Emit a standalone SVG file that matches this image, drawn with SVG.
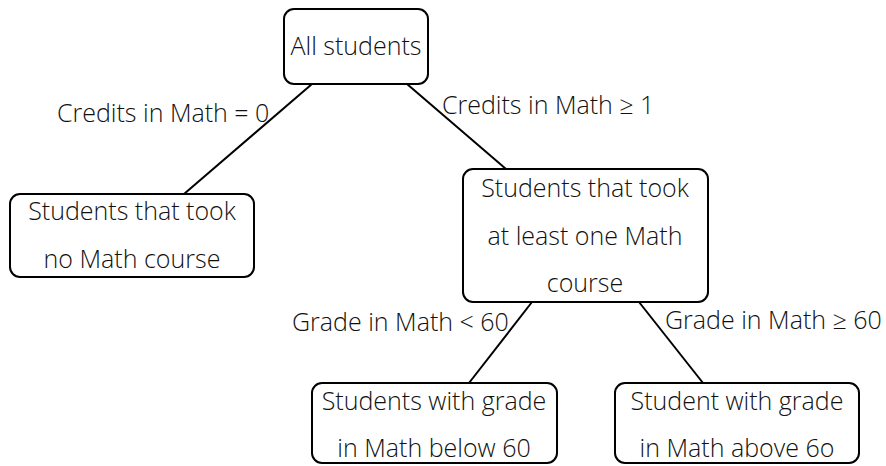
<svg xmlns="http://www.w3.org/2000/svg" width="886" height="466" viewBox="0 0 886 466">
<style>
text{font-family:"Open Sans","Noto Sans","DejaVu Sans",sans-serif;font-size:25px;font-weight:300;fill:#111;}
.c{text-anchor:middle;}
.n{fill:#fff;stroke:#000;stroke-width:2;}
.e{stroke:#000;stroke-width:2;fill:none;}
</style>
<rect width="886" height="466" fill="#fff"/>
<g id="edges">
<line class="e" x1="312" y1="84" x2="184" y2="194"/>
<line class="e" x1="407" y1="84" x2="506" y2="169"/>
<line class="e" x1="532" y1="302" x2="469" y2="383"/>
<line class="e" x1="639" y1="302" x2="703" y2="383"/>
<text x="57" y="122">Credits in Math = 0</text>
<text x="442" y="114">Credits in Math ≥ 1</text>
<text x="292" y="331">Grade in Math &lt; 60</text>
<text x="665" y="329">Grade in Math ≥ 60</text>
</g>
<g id="root">
<rect class="n" x="284" y="9" width="144" height="75" rx="10"/>
<text class="c" x="356" y="55">All students</text>
</g>
<g id="nomath">
<rect class="n" x="10" y="194" width="244" height="83" rx="10"/>
<text class="c" x="132" y="220">Students that took</text>
<text class="c" x="132" y="268">no Math course</text>
</g>
<g id="somemath">
<rect class="n" x="463" y="169" width="245" height="133" rx="10"/>
<text class="c" x="585" y="197">Students that took</text>
<text class="c" x="585" y="245">at least one Math</text>
<text class="c" x="585" y="292">course</text>
</g>
<g id="below">
<rect class="n" x="312" y="383" width="245" height="80" rx="10"/>
<text class="c" x="434" y="410">Students with grade</text>
<text class="c" x="434" y="457">in Math below 60</text>
</g>
<g id="above">
<rect class="n" x="615" y="383" width="244" height="80" rx="10"/>
<text class="c" x="737" y="410">Student with grade</text>
<text class="c" x="737" y="457">in Math above 6o</text>
</g>
</svg>
